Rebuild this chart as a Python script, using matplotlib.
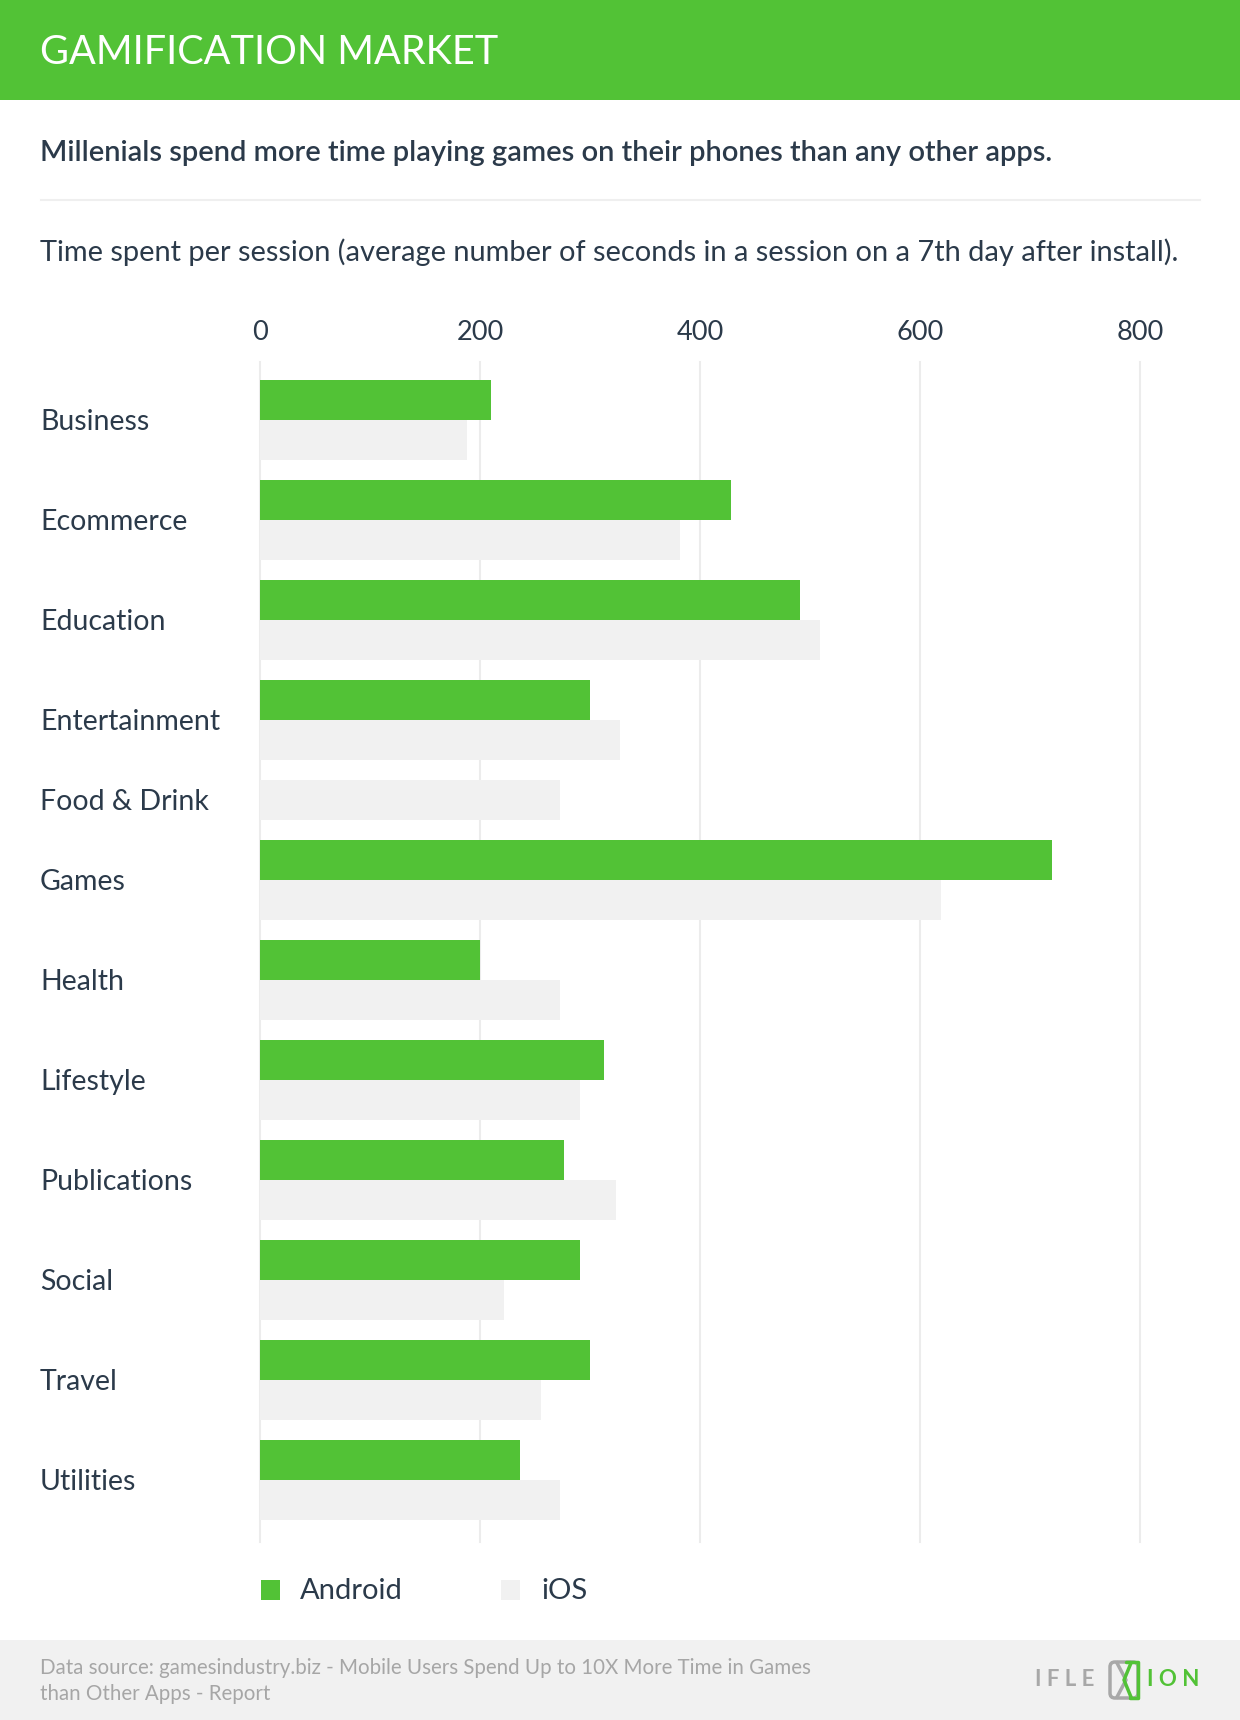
import matplotlib
matplotlib.use("Agg")
from matplotlib import pyplot as plt
from matplotlib.patches import Rectangle, FancyBboxPatch
import numpy as np

plt.rcParams['font.family'] = ['Lato', 'DejaVu Sans']

categories = ['Business', 'Ecommerce', 'Education', 'Entertainment', 'Food & Drink', 'Games',
              'Health', 'Lifestyle', 'Publications', 'Social', 'Travel', 'Utilities']
android = [210, 428, 491, 300, None, 720, 200, 313, 276, 291, 300, 236]
ios = [188, 382, 509, 327, 273, 619, 273, 291, 324, 222, 255, 273]
xticks = [0, 200, 400, 600, 800]

GREEN = '#52c236'
LIGHT = '#f1f1f1'
TEXT = '#2b3a4a'

W, H = 1240, 1720
fig = plt.figure(figsize=(W / 100, H / 100), dpi=100)

# background canvas in pixel coordinates
bg = fig.add_axes([0, 0, 1, 1])
bg.set_xlim(0, W)
bg.set_ylim(H, 0)
bg.axis('off')

bg.add_patch(Rectangle((0, 0), W, 100, color=GREEN, lw=0))
bg.text(40, 52, 'GAMIFICATION MARKET', color='white', fontsize=28.5, va='center', ha='left')
bg.text(40, 153, 'Millenials spend more time playing games on their phones than any other apps.',
        color=TEXT, fontsize=21, va='center', ha='left', fontweight='semibold')
bg.plot([41, 1200], [200, 200], color='#efefef', lw=1.5)
bg.text(40, 252, 'Time spent per session (average number of seconds in a session on a 7th day after install).',
        color=TEXT, fontsize=20.9, va='center', ha='left')

# chart axes: x 0..800 -> 260..1140 px, y in pixel units
top, bottom = 362, 1542
ax = fig.add_axes([260 / W, 1 - bottom / H, 880 / W, (bottom - top) / H])
ax.set_xlim(0, 800)
ax.set_ylim(bottom, top)
for s in ax.spines.values():
    s.set_visible(False)
ax.set_yticks([])
ax.set_xticks([])
for t in xticks:
    ax.axvline(t, color='#ececec', lw=1.5, zorder=0, clip_on=False)

bar_h = 40
y = 380
for cat, a, i in zip(categories, android, ios):
    start = y
    if a is not None:
        ax.barh(y, a, height=bar_h, align='edge', color=GREEN, lw=0, zorder=2)
        y += bar_h
    ax.barh(y, i, height=bar_h, align='edge', color=LIGHT, lw=0, zorder=2)
    y += bar_h
    bg.text(40, (start + y) / 2 + 2, cat, color=TEXT, fontsize=20.5, va='center', ha='left')
    y += 20

for t in xticks:
    bg.text(260 + t * 1.1, 332, str(t), color=TEXT, fontsize=19.5, va='center', ha='center')

# legend
bg.add_patch(Rectangle((261, 1580), 19, 20, color=GREEN, lw=0))
bg.text(300, 1591, 'Android', color=TEXT, fontsize=21, va='center', ha='left')
bg.add_patch(Rectangle((501, 1580), 19, 20, color=LIGHT, lw=0))
bg.text(541, 1591, 'iOS', color=TEXT, fontsize=21, va='center', ha='left')

# footer
bg.add_patch(Rectangle((0, 1640), W, 80, color='#f1f1f1', lw=0))
bg.text(40, 1668, 'Data source: gamesindustry.biz - Mobile Users Spend Up to 10X More Time in Games',
        color='#a6a6a6', fontsize=14.8, va='center', ha='left')
bg.text(40, 1694, 'than Other Apps - Report', color='#a6a6a6', fontsize=14.8, va='center', ha='left')

# logo
bg.text(1035, 1680, 'I F L E', color='#a8a8a8', fontsize=16, va='center', ha='left', fontweight='bold')
bg.add_patch(FancyBboxPatch((1110, 1662), 28, 36, boxstyle='round,pad=0,rounding_size=5',
                            fill=False, ec='#a8a8a8', lw=2.5))
bg.plot([1126, 1138, 1138, 1130], [1662, 1662, 1698, 1698], color=GREEN, lw=2.5, solid_capstyle='round')
bg.plot([1117, 1126, 1117], [1663, 1680, 1697], color='#a8a8a8', lw=2.5)
bg.plot([1131, 1124, 1131], [1663, 1680, 1697], color=GREEN, lw=2.5)
bg.text(1147, 1680, 'I O N', color=GREEN, fontsize=16, va='center', ha='left', fontweight='bold')

fig.savefig('out.png', dpi=100)
